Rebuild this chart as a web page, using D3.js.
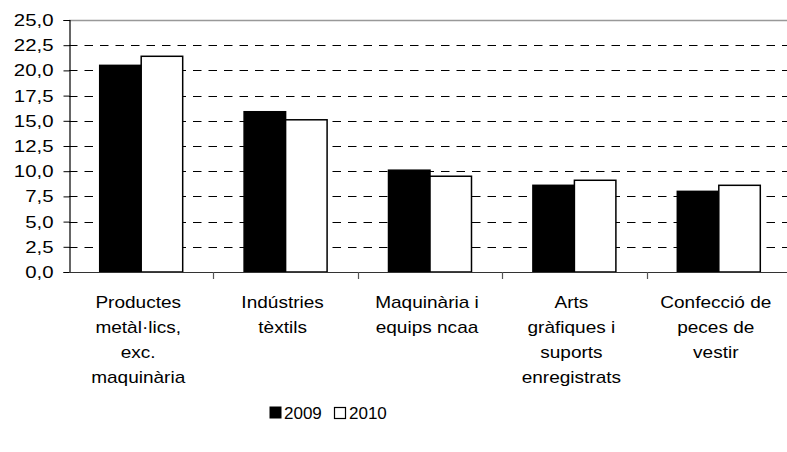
<!DOCTYPE html>
<html>
<head>
<meta charset="utf-8">
<script src="https://cdn.jsdelivr.net/npm/d3@7"></script>
<style>
html,body{margin:0;padding:0;background:#fff;overflow:hidden;}
svg{display:block;}
text{font-family:"Liberation Sans",Arial,sans-serif;fill:#000;}
</style>
</head>
<body>
<svg id="chart" width="787" height="452"></svg>
<script>
const categories = ["Productes metàl·lics, exc. maquinària","Indústries tèxtils","Maquinària i equips ncaa","Arts gràfiques i suports enregistrats","Confecció de peces de vestir"];
const categoryLines = [["Productes","metàl·lics,","exc.","maquinària"],["Indústries","tèxtils"],["Maquinària i","equips ncaa"],["Arts","gràfiques i","suports","enregistrats"],["Confecció de","peces de","vestir"]];
const seriesNames = ["2009","2010"];
const values2009 = [20.5, 15.9, 10.1, 8.6, 8.0];
const values2010 = [21.4, 15.1, 9.5, 9.1, 8.6];
const yTicks = [0, 2.5, 5, 7.5, 10, 12.5, 15, 17.5, 20, 22.5, 25];
const seriesFill = ["#000000", "#ffffff"];

const FS = 17, SX = 1.2, SXC = 1.12;
const svg = d3.select("#chart");
const mLeft = 69, mRight = 791, mTop = 20, mBottom = 272;

const y = d3.scaleLinear().domain([0, 25]).range([mBottom, mTop]);
const x0 = d3.scaleBand().domain(categories).range([mLeft, mRight]).padding(0);
const x1 = d3.scaleBand().domain(seriesNames).range([0, x0.bandwidth()]).paddingInner(0).paddingOuter(0.74);

// gridlines
svg.append("g").selectAll("line").data(yTicks.filter(t => t > 0 && t < 25)).join("line")
  .attr("x1", mLeft).attr("x2", 787)
  .attr("y1", d => Math.round(y(d)) + 0.5).attr("y2", d => Math.round(y(d)) + 0.5)
  .attr("stroke", "#000").attr("stroke-width", 1).attr("stroke-dasharray", "8.5,7");
// top border
svg.append("line").attr("x1", mLeft).attr("x2", 787).attr("y1", Math.round(y(25)) + 0.5).attr("y2", Math.round(y(25)) + 0.5)
  .attr("stroke", "#999").attr("stroke-width", 1.5);

// bars
const data = categories.map((c, i) => ({cat: c, vals: [values2009[i], values2010[i]]}));
const g = svg.append("g");
data.forEach(d => {
  seriesNames.forEach((s, j) => {
    g.append("rect")
      .attr("x", x0(d.cat) + x1(s))
      .attr("y", y(d.vals[j]))
      .attr("width", x1.bandwidth())
      .attr("height", mBottom - y(d.vals[j]))
      .attr("fill", seriesFill[j])
      .attr("stroke", "#000").attr("stroke-width", 1.5);
  });
});

// y axis
const yAxis = d3.axisLeft(y).tickValues(yTicks).tickSize(6).tickPadding(9)
  .tickFormat(d => d3.format(".1f")(d).replace(".", ","));
const ya = svg.append("g").attr("transform", `translate(${mLeft + 0.5},0)`).call(yAxis);
ya.select(".domain").attr("stroke", "#000").attr("stroke-width", 1.2);
ya.selectAll(".tick line").attr("stroke", "#000");
ya.selectAll(".tick text").attr("x", 0).attr("transform", `translate(-16,0) scale(${SX},1)`)
  .style("font-size", FS + "px").style("font-family", "Liberation Sans, Arial, sans-serif").attr("fill", "#000");

// x axis
const xa = svg.append("g");
xa.append("line").attr("x1", mLeft).attr("x2", 787).attr("y1", mBottom + 0.5).attr("y2", mBottom + 0.5).attr("stroke", "#333").attr("stroke-width", 1.2);
xa.selectAll("line.tk").data(categories.slice(1)).join("line").attr("class", "tk")
  .attr("x1", d => Math.round(x0(d)) + 0.5).attr("x2", d => Math.round(x0(d)) + 0.5)
  .attr("y1", mBottom).attr("y2", mBottom + 7).attr("stroke", "#555").attr("stroke-width", 1.2);

// category labels
categories.forEach((c, i) => {
  const cx = x0(c) + x0.bandwidth() / 2 - 3;
  const t = svg.append("text").attr("text-anchor", "middle").style("font-size", FS + "px")
    .attr("transform", `translate(${cx},0) scale(${SXC},1)`);
  categoryLines[i].forEach((ln, k) => {
    t.append("tspan").attr("x", 0).attr("y", 308 + k * 25).text(ln);
  });
});

// legend
const leg = svg.append("g");
leg.append("rect").attr("x", 270).attr("y", 407).attr("width", 11).attr("height", 11).attr("fill", seriesFill[0]).attr("stroke", "#000");
leg.append("text").attr("x", 284).attr("y", 419).style("font-size", FS + "px").text(seriesNames[0]);
leg.append("rect").attr("x", 334.5).attr("y", 407.5).attr("width", 11).attr("height", 11).attr("fill", seriesFill[1]).attr("stroke", "#000").attr("stroke-width", 1.2);
leg.append("text").attr("x", 349).attr("y", 419).style("font-size", FS + "px").text(seriesNames[1]);
</script>
</body>
</html>
